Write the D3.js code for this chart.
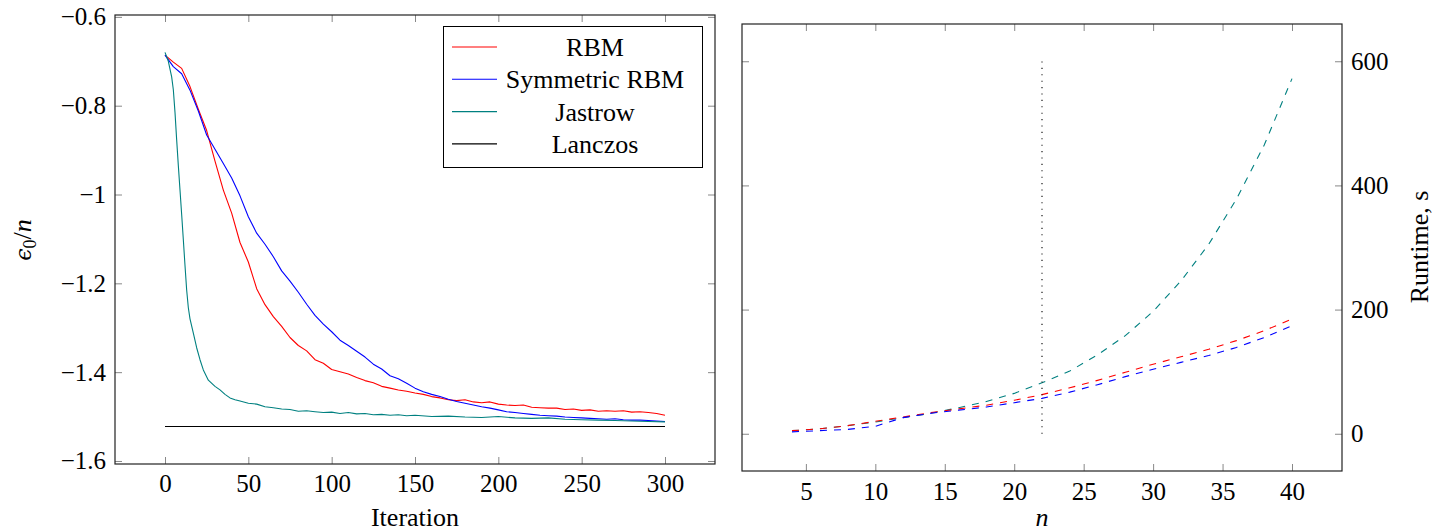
<!DOCTYPE html>
<html>
<head>
<meta charset="utf-8">
<script src="https://cdn.jsdelivr.net/npm/d3@7/dist/d3.min.js"></script>
<style>
	body { margin: 0; background: #fff; }
	svg text { font-family: "Liberation Serif", "DejaVu Serif", serif; fill: #000; }
</style>
</head>
<body>
<div id="chart"></div>
<script>
// left panel: energy per site vs iteration
let iterations	= [0, 5, 10, 15, 20, 25, 30, 35, 40, 45, 50, 55, 60, 65, 70, 75, 80, 85, 90, 95,
	100, 105, 110, 115, 120, 125, 130, 135, 140, 145, 150, 155, 160, 165, 170, 175, 180, 185, 190, 195,
	200, 205, 210, 215, 220, 225, 230, 235, 240, 245, 250, 255, 260, 265, 270, 275, 280, 285, 290, 295, 300];

let rbm			= [-0.686, -0.702, -0.716, -0.757, -0.808, -0.856, -0.925, -0.990, -1.042, -1.108,
	-1.152, -1.212, -1.248, -1.275, -1.297, -1.322, -1.340, -1.352, -1.372, -1.380,
	-1.394, -1.399, -1.404, -1.412, -1.419, -1.424, -1.432, -1.436, -1.440, -1.443,
	-1.447, -1.450, -1.455, -1.458, -1.462, -1.464, -1.462, -1.467, -1.469, -1.467,
	-1.472, -1.474, -1.475, -1.474, -1.479, -1.480, -1.481, -1.481, -1.484, -1.483,
	-1.486, -1.485, -1.488, -1.487, -1.488, -1.487, -1.490, -1.489, -1.491, -1.493, -1.497];

let symRbm		= [-0.686, -0.712, -0.728, -0.765, -0.812, -0.866, -0.898, -0.930, -0.963, -1.003,
	-1.050, -1.087, -1.112, -1.140, -1.172, -1.195, -1.220, -1.247, -1.272, -1.292,
	-1.309, -1.328, -1.340, -1.353, -1.366, -1.382, -1.393, -1.408, -1.415, -1.425,
	-1.436, -1.444, -1.450, -1.455, -1.461, -1.466, -1.470, -1.474, -1.478, -1.481,
	-1.485, -1.489, -1.491, -1.493, -1.495, -1.497, -1.498, -1.499, -1.501, -1.502,
	-1.503, -1.504, -1.505, -1.506, -1.505, -1.507, -1.508, -1.508, -1.509, -1.510, -1.511];

let jastrowIter	= [0, 2, 4, 5, 6, 7, 8, 9, 10, 11, 12, 13, 14, 15, 17, 19, 21, 23, 26, 30, 33, 36, 39, 42, 45,
	50, 55, 60, 65, 70, 75, 80, 85, 90, 95, 100, 105, 110, 115, 120, 125, 130, 135, 140, 145, 150,
	160, 170, 180, 190, 200, 210, 220, 230, 240, 250, 260, 270, 280, 290, 300];

let jastrow		= [-0.680, -0.700, -0.735, -0.764, -0.815, -0.877, -0.935, -0.990, -1.045, -1.102, -1.160,
	-1.215, -1.255, -1.280, -1.312, -1.345, -1.372, -1.395, -1.418, -1.432, -1.440, -1.450, -1.458,
	-1.462, -1.465, -1.470, -1.472, -1.478, -1.480, -1.483, -1.484, -1.488, -1.487, -1.489, -1.491,
	-1.490, -1.493, -1.491, -1.494, -1.493, -1.496, -1.495, -1.497, -1.496, -1.498, -1.497,
	-1.500, -1.499, -1.501, -1.502, -1.500, -1.503, -1.504, -1.503, -1.506, -1.507, -1.508,
	-1.509, -1.510, -1.511, -1.512];

let lanczosIter	= [0, 300];
let lanczos		= [-1.5225, -1.5225];

let iterTicks	= [0, 50, 100, 150, 200, 250, 300];
let energyTicks	= [-1.6, -1.4, -1.2, -1, -0.8, -0.6];

// right panel: runtime vs n
let sizes		= [4, 6, 8, 10, 12, 14, 16, 18, 20, 22, 24, 26, 28, 30, 32, 34, 36, 38, 40];
let rbmTime		= [5, 8, 13, 20, 27, 34, 40, 46, 54, 63, 74, 86, 99, 112, 124, 136, 150, 166, 185];
let symTime		= [3, 5, 7, 12, 26, 33, 38, 43, 50, 57, 67, 79, 92, 104, 115, 126, 139, 155, 174];
let jasTime		= [5, 8, 13, 19, 26, 33, 42, 52, 65, 82, 101, 127, 158, 197, 246, 305, 378, 465, 572];
let markerN		= [22, 22];
let markerTime	= [0, 600];

let sizeTicks	= [5, 10, 15, 20, 25, 30, 35, 40];
let timeTicks	= [0, 200, 400, 600];

let legendNames		= ['RBM', 'Symmetric RBM', 'Jastrow', 'Lanczos'];
let legendColors	= ['#ff0000', '#0000ff', '#008080', '#000000'];

let serifFont	= '"Liberation Serif", "DejaVu Serif", serif';

function zip(xs, ys) { return xs.map((x, i) => [x, ys[i]]); }

function drawTicks(g, axis, transform) {
	g.append('g')
		.attr('transform', transform)
		.call(axis)
		.attr('font-family', null)
		.call((a) => a.select('.domain').remove())
		.call((a) => a.selectAll('.tick line').attr('stroke', '#888'))
		.call((a) => a.selectAll('.tick text')
			.style('font-size', '25px')
			.style('font-family', serifFont));
}

function createChart() {
	let svg = d3.select('#chart').append('svg')
		.attr('width', 1447)
		.attr('height', 531)
		.style('font-family', serifFont);

	// ---------- left ----------
	let L = { x0: 115, x1: 715, y0: 15, y1: 464 };
	let xL = d3.scaleLinear().domain([-30, 330]).range([L.x0, L.x1]);
	let yL = d3.scaleLinear().domain([-1.6068, -0.5958]).range([L.y1, L.y0]);

	let gL = svg.append('g');

	drawTicks(gL, d3.axisBottom(xL).tickValues(iterTicks).tickSize(-7).tickPadding(10).tickFormat(d3.format('d')), 'translate(0,' + L.y1 + ')');
	drawTicks(gL, d3.axisTop(xL).tickValues(iterTicks).tickSize(-7).tickFormat(''), 'translate(0,' + L.y0 + ')');
	drawTicks(gL, d3.axisLeft(yL).tickValues(energyTicks).tickSize(-7).tickPadding(9).tickFormat(d3.format('~g')), 'translate(' + L.x0 + ',0)');
	drawTicks(gL, d3.axisRight(yL).tickValues(energyTicks).tickSize(-7).tickFormat(''), 'translate(' + L.x1 + ',0)');

	let lineL = d3.line().x((d) => xL(d[0])).y((d) => yL(d[1]));

	let seriesL = [zip(iterations, rbm), zip(iterations, symRbm), zip(jastrowIter, jastrow), zip(lanczosIter, lanczos)];

	gL.selectAll('path.series')
		.data(seriesL)
			.enter().append('path')
			.attr('class', 'series')
			.attr('d', lineL)
			.attr('fill', 'none')
			.attr('stroke', (d, i) => legendColors[i])
			.attr('stroke-width', 1.1)
			.attr('stroke-linejoin', 'round');

	gL.append('rect')
		.attr('x', L.x0).attr('y', L.y0)
		.attr('width', L.x1 - L.x0).attr('height', L.y1 - L.y0)
		.attr('fill', 'none').attr('stroke', '#222').attr('stroke-width', 1.2);

	// legend
	let legend = gL.append('g');
	legend.append('rect')
		.attr('x', 443.5).attr('y', 26.5)
		.attr('width', 259).attr('height', 141)
		.attr('fill', '#fff').attr('stroke', '#000').attr('stroke-width', 1);

	let rows = legend.selectAll('g.row')
		.data(legendNames)
			.enter().append('g')
			.attr('class', 'row')
			.attr('transform', (d, i) => 'translate(0,' + (47 + i * 32.3) + ')');

	rows.append('line')
		.attr('x1', 452).attr('x2', 497)
		.attr('stroke', (d, i) => legendColors[i])
		.attr('stroke-width', 1.1);

	rows.append('text')
		.attr('x', 595)
		.attr('dy', '0.35em')
		.attr('text-anchor', 'middle')
		.style('font-size', '26px')
		.text((d) => d);

	gL.append('text')
		.attr('x', 415).attr('y', 526)
		.attr('text-anchor', 'middle')
		.style('font-size', '26px')
		.text('Iteration');

	let yLab = gL.append('text')
		.attr('transform', 'translate(31,240) rotate(-90)')
		.attr('text-anchor', 'middle')
		.style('font-size', '26px');
	yLab.append('tspan').style('font-style', 'italic').style('font-family', '"DejaVu Serif", serif').style('font-size', '22px').text('ϵ');
	yLab.append('tspan').attr('dy', 5).style('font-size', '18px').text('0');
	yLab.append('tspan').attr('dy', -5).text('/');
	yLab.append('tspan').style('font-style', 'italic').text('n');

	// ---------- right ----------
	let R = { x0: 742, x1: 1342, y0: 24, y1: 471 };
	let xR = d3.scaleLinear().domain([0.4, 43.6]).range([R.x0, R.x1]);
	let yR = d3.scaleLinear().domain([-60, 660]).range([R.y1, R.y0]);

	let gR = svg.append('g');

	drawTicks(gR, d3.axisBottom(xR).tickValues(sizeTicks).tickSize(-7).tickPadding(11).tickFormat(d3.format('d')), 'translate(0,' + R.y1 + ')');
	drawTicks(gR, d3.axisTop(xR).tickValues(sizeTicks).tickSize(-7).tickFormat(''), 'translate(0,' + R.y0 + ')');
	drawTicks(gR, d3.axisRight(yR).tickValues(timeTicks).tickSize(-7).tickPadding(9).tickFormat(d3.format('d')), 'translate(' + R.x1 + ',0)');
	drawTicks(gR, d3.axisLeft(yR).tickValues(timeTicks).tickSize(-7).tickFormat(''), 'translate(' + R.x0 + ',0)');

	let lineR = d3.line().x((d) => xR(d[0])).y((d) => yR(d[1]));

	let seriesR = [zip(sizes, jasTime), zip(sizes, rbmTime), zip(sizes, symTime)];
	let colorsR = ['#008080', '#ff0000', '#0000ff'];

	gR.selectAll('path.runtime')
		.data(seriesR)
			.enter().append('path')
			.attr('class', 'runtime')
			.attr('d', lineR)
			.attr('fill', 'none')
			.attr('stroke', (d, i) => colorsR[i])
			.attr('stroke-width', 1.1)
			.attr('stroke-dasharray', '7,7');

	gR.append('path')
		.attr('d', lineR(zip(markerN, markerTime)))
		.attr('fill', 'none')
		.attr('stroke', '#000')
		.attr('stroke-width', 1.1)
		.attr('stroke-dasharray', '1.1,5.3');

	gR.append('rect')
		.attr('x', R.x0).attr('y', R.y0)
		.attr('width', R.x1 - R.x0).attr('height', R.y1 - R.y0)
		.attr('fill', 'none').attr('stroke', '#222').attr('stroke-width', 1.2);

	gR.append('text')
		.attr('x', 1042).attr('y', 526)
		.attr('text-anchor', 'middle')
		.style('font-size', '26px')
		.style('font-style', 'italic')
		.text('n');

	gR.append('text')
		.attr('transform', 'translate(1428,247) rotate(-90)')
		.attr('text-anchor', 'middle')
		.style('font-size', '26px')
		.text('Runtime, s');
}

createChart();
</script>
</body>
</html>
